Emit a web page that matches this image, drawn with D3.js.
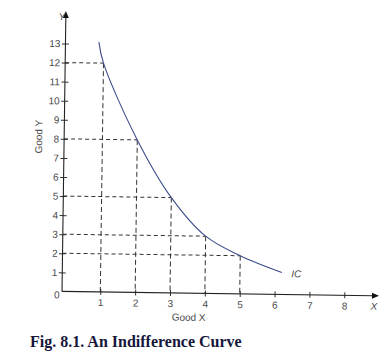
<!DOCTYPE html>
<html>
<head>
<meta charset="utf-8">
<script src="https://cdn.jsdelivr.net/npm/d3@7"></script>
<style>
  body { margin: 0; background: #fff; }
  svg { display: block; }
  .tick text { font-family: "Liberation Sans", Arial, sans-serif; font-size: 10px; fill: #4a4a4a; }
</style>
</head>
<body>
<div id="chart"></div>
<script>
// indifference curve points (good X, good Y)
const icX = [0.86, 1, 2, 3, 4, 5, 6.2]
const icY = [13.1, 12, 8, 5, 3, 2, 1.15]
// combinations marked with dashed guides
const guideX = [1, 2, 3, 4, 5]
const guideY = [12, 8, 5, 3, 2]
const xTicks = [1, 2, 3, 4, 5, 6, 7, 8]
const yTicks = [1, 2, 3, 4, 5, 6, 7, 8, 9, 10, 11, 12, 13]

const width = 383
const height = 354
const axisX = 62

const svg = d3.select("#chart").append("svg")
    .attr("width", width)
    .attr("height", height)

const x = d3.scaleLinear().domain([1, 8]).range([100.3, 344.3])
const y = d3.scaleLinear().domain([0, 13]).range([291.4, 43.5])

// the scan is tilted a little, so the plot is turned round the origin
const g = svg.append("g")
    .attr("transform", "rotate(0.8," + axisX + "," + y(0) + ")")

// dashed guides
guideX.forEach((gx, i) => {
    g.append("line")
        .attr("x1", axisX).attr("x2", x(gx))
        .attr("y1", y(guideY[i])).attr("y2", y(guideY[i]))
        .attr("stroke", "#333").attr("stroke-width", 1)
        .attr("stroke-dasharray", "4,3")
    g.append("line")
        .attr("x1", x(gx)).attr("x2", x(gx))
        .attr("y1", y(guideY[i])).attr("y2", y(0))
        .attr("stroke", "#333").attr("stroke-width", 1)
        .attr("stroke-dasharray", "5,3")
})

// axes
const yAxis = g.append("g")
    .attr("transform", "translate(" + axisX + ",0)")
    .call(d3.axisLeft(y).tickValues(yTicks).tickFormat(d3.format("d")).tickSize(4).tickPadding(1))
yAxis.select(".domain").remove()
yAxis.selectAll(".tick line").attr("x1", -3.5).attr("x2", 3.5).attr("stroke", "#333")

const xAxis = g.append("g")
    .attr("transform", "translate(0," + y(0) + ")")
    .call(d3.axisBottom(x).tickValues(xTicks).tickFormat(d3.format("d")).tickSize(4).tickPadding(3))
xAxis.select(".domain").remove()
xAxis.selectAll(".tick line").attr("y1", -3).attr("y2", 3).attr("stroke", "#333")

g.append("line")
    .attr("x1", axisX).attr("x2", axisX)
    .attr("y1", y(0)).attr("y2", 17)
    .attr("stroke", "#222").attr("stroke-width", 1.1)
g.append("path")
    .attr("d", "M" + axisX + ",11 L" + (axisX - 3) + ",18 L" + (axisX + 3) + ",18 Z")
    .attr("fill", "#111")

g.append("line")
    .attr("x1", axisX).attr("x2", 373)
    .attr("y1", y(0)).attr("y2", y(0))
    .attr("stroke", "#222").attr("stroke-width", 1.1)
g.append("path")
    .attr("d", "M379," + y(0) + " L372," + (y(0) - 3) + " L372," + (y(0) + 3) + " Z")
    .attr("fill", "#111")

// curve
const line = d3.line()
    .x((d, i) => x(d))
    .y((d, i) => y(icY[i]))
    .curve(d3.curveCatmullRom)

g.append("path")
    .datum(icX)
    .attr("d", line)
    .attr("fill", "none")
    .attr("stroke", "#3d4c8c")
    .attr("stroke-width", 1.1)

// text
const labelFont = "'Liberation Sans', Arial, sans-serif"
g.append("text")
    .attr("x", axisX - 5).attr("y", y(0) + 7)
    .attr("text-anchor", "middle")
    .style("font-family", labelFont).style("font-size", "10px").style("fill", "#4a4a4a")
    .text("0")
g.append("text")
    .attr("x", 58).attr("y", 20)
    .attr("text-anchor", "middle")
    .style("font-family", labelFont).style("font-size", "10px").style("font-style", "italic").style("fill", "#4a4a4a")
    .text("Y")
g.append("text")
    .attr("x", 374).attr("y", y(0) + 14)
    .attr("text-anchor", "middle")
    .style("font-family", labelFont).style("font-size", "10px").style("font-style", "italic").style("fill", "#4a4a4a")
    .text("X")
g.append("text")
    .attr("x", 291).attr("y", 274)
    .style("font-family", labelFont).style("font-size", "10px").style("font-style", "italic").style("fill", "#4a4a4a")
    .text("IC")
g.append("text")
    .attr("x", 189).attr("y", 319)
    .attr("text-anchor", "middle")
    .style("font-family", labelFont).style("font-size", "10px").style("fill", "#4a4a4a")
    .text("Good X")
g.append("text")
    .attr("transform", "translate(40,137) rotate(-90)")
    .attr("text-anchor", "middle")
    .style("font-family", labelFont).style("font-size", "10px").style("fill", "#4a4a4a")
    .text("Good Y")

svg.append("text")
    .attr("x", 30).attr("y", 346.5)
    .style("font-family", "'Liberation Serif', 'Times New Roman', serif")
    .style("font-size", "16px").style("font-weight", "bold").style("fill", "#16163a")
    .text("Fig. 8.1. An Indifference Curve")
</script>
</body>
</html>
